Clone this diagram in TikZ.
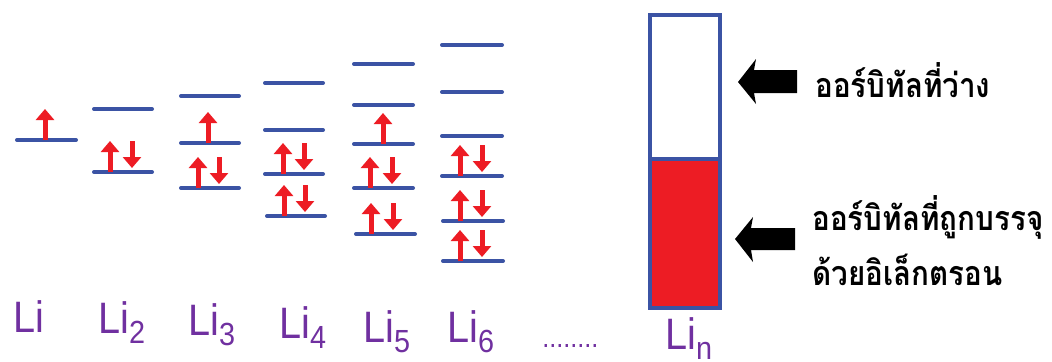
\documentclass[tikz,border=0pt]{standalone}
\usepackage{fontspec}
\setmainfont[FakeStretch=0.9]{Liberation Sans}
\newfontfamily\thaifont[Script=Thai,FakeStretch=0.87]{Loma}
\usetikzlibrary{arrows.meta,fit}
\definecolor{levblue}{RGB}{59,83,164}
\definecolor{ered}{RGB}{237,28,36}
\definecolor{lipurple}{RGB}{112,48,160}
\tikzset{
  lev/.style={levblue, line width=2pt, line cap=round},
  earrow/.style={ered, line width=2.5pt, -{Triangle[length=5.5pt,width=9pt]}, shorten >=-1pt},
  lilabel/.style={lipurple, anchor=base west, inner sep=0pt, font=\fontsize{22}{24}\selectfont},
  thaitext/.style={anchor=base west, inner sep=0pt, font=\thaifont\bfseries\fontsize{17}{20}\selectfont, align=left},
  bigarrow/.style={fill=black},
}
\newcommand\lvl[3]{\draw[lev] (#1,#3) -- (#2,#3);}
\newcommand\upe[2]{\draw[earrow] (#1,#2) -- (#1,{#2-29});}
\newcommand\dne[2]{\draw[earrow] (#1,{#2-31}) -- (#1,{#2-6});}
\newcommand\epair[3]{\upe{#1}{#3}\dne{#2}{#3}}
\newcommand\subsc[1]{\raisebox{-5pt}{\fontsize{16}{16}\selectfont #1}}
\begin{document}
\begin{tikzpicture}[x=0.5pt,y=-0.5pt]
\useasboundingbox[fill=white] (0,0) rectangle (1052,361);
% Li
\lvl{17}{76}{140}
\upe{45}{140}
% Li2
\lvl{94}{152}{109}\lvl{94}{152}{172}
\epair{110}{132}{172}
% Li3
\lvl{181}{239}{96}\lvl{181}{239}{143}\lvl{181}{239}{188}
\upe{208}{143}
\epair{198}{219}{188}
% Li4
\lvl{265}{323}{83}\lvl{265}{323}{130}\lvl{265}{323}{174}\lvl{267}{325}{216}
\epair{283}{304}{174}\epair{284}{305}{216}
% Li5
\lvl{354}{413}{64}\lvl{354}{413}{105}\lvl{354}{413}{144}\lvl{354}{413}{188}\lvl{356}{415}{234}
\upe{383}{144}
\epair{370}{392}{188}\epair{371}{393}{234}
% Li6
\lvl{442}{502}{45}\lvl{442}{502}{92}\lvl{442}{502}{136}\lvl{442}{502}{176}\lvl{443}{503}{221}\lvl{443}{503}{261}
\epair{460}{482}{176}\epair{460}{482}{221}\epair{460}{482}{261}
% band box
\fill[white] (650,15) rectangle (720,159);
\fill[ered] (650,159) rectangle (720,308);
\draw[levblue, line width=2pt] (650,15) rectangle (720,308);
\draw[levblue, line width=2pt] (650,159) -- (720,159);
\node[inner sep=0pt, fit={(650,15) (720,308)}] (band) {};
% big black arrows
\fill[bigarrow] (738,82) -- (756,59) -- (754,70) -- (797,70) -- (797,93) -- (754,93) -- (756,104) -- cycle;
\fill[bigarrow] (735,239) -- (753,217) -- (751,228) -- (795,228) -- (795,250) -- (751,250) -- (753,262) -- cycle;
% texts
\node[thaitext] (empty) at (815,97) {ออร์บิทัลที่ว่าง};
\node[thaitext] (filled1) at (812,230) {ออร์บิทัลที่ถูกบรรจุ};
\node[thaitext] (filled2) at (812,285) {ด้วยอิเล็กตรอน};
% labels
\node[lilabel] (l1) at (13,332) {Li};
\node[lilabel] (l2) at (98,333) {Li\subsc{2}};
\node[lilabel] (l3) at (188,335) {Li\subsc{3}};
\node[lilabel] (l4) at (279,338) {Li\subsc{4}};
\node[lilabel] (l5) at (363,342) {Li\subsc{5}};
\node[lilabel] (l6) at (447,342) {Li\subsc{6}};
\node[lipurple, anchor=base west, inner sep=0pt, font=\fontsize{14}{14}\selectfont] (dots) at (542,347) {........};
\node[lilabel] (ln) at (665,349) {Li\subsc{n}};
\end{tikzpicture}
\end{document}
